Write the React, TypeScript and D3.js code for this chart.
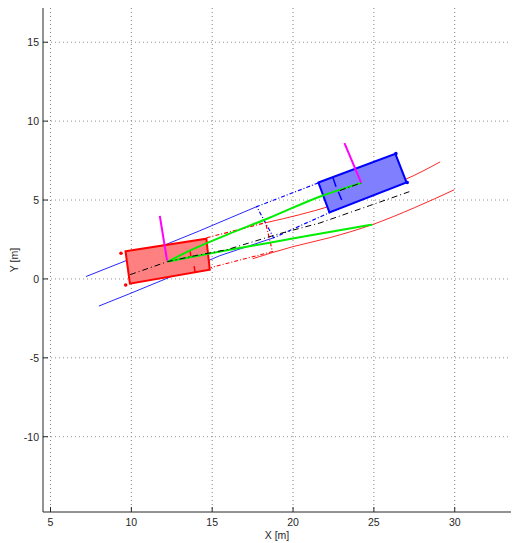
import React from "react";
import * as d3 from "d3";

const W = 512, H = 543;
const xDomain: [number, number] = [4.536, 33.48];
const yDomain: [number, number] = [-14.77, 17.17];
const xTicks = [5, 10, 15, 20, 25, 30];
const yTicks = [-10, -5, 0, 5, 10, 15];

type P = [number, number];
const redCar: P[] = [[9.64, 1.75], [14.64, 2.55], [14.85, 0.59], [9.91, -0.3]];
const blueCar: P[] = [[21.57, 6.11], [26.33, 7.93], [27.02, 6.11], [22.25, 4.22]];
const redDots: P[] = [[9.36, 1.63], [9.65, -0.38]];
const blueDots: P[] = [[26.36, 7.94], [27.06, 6.11]];
const redAxle: P[][] = [[[13.63, 1.77], [13.69, 1.39]], [[13.88, 0.81], [13.94, 0.44]]];
const blueAxle: P[][] = [[[22.47, 6.41], [22.66, 5.84]], [[22.8, 5.52], [23.01, 5.0]]];
const redHeading: P[] = [[11.76, 4.0], [12.21, 1.16]];
const blueHeading: P[] = [[23.18, 8.61], [24.21, 6.11]];
const blueUpper: P[] = [[7.19, 0.15], [9.9, 1.25], [14.2, 3.04], [17.75, 4.58]];
const blueLower: P[] = [[7.99, -1.72], [9.91, -0.93], [12.75, 0.27], [15.46, 1.47], [18.8, 2.61]];
const blueGhost: P[] = [[21.57, 6.09], [17.75, 4.58], [18.8, 2.61], [22.25, 4.2]];
const redGhost: P[] = [[14.66, 2.61], [18.3, 3.56], [18.73, 1.73], [14.91, 0.72]];
const redUpper: P[] = [[18.3, 3.56], [20.4, 4.07], [22.25, 4.6], [24.72, 5.53], [26.88, 6.28], [29.1, 7.42]];
const redLower: P[] = [[17.5, 1.28], [19.97, 2.04], [22.25, 2.61], [24.9, 3.44], [27.5, 4.51], [29.97, 5.65]];
const greenUpper: P[] = [[12.25, 1.1], [13.61, 1.79], [16.08, 2.87], [18.55, 3.88], [21.64, 5.21], [24.23, 6.09]];
const greenLower: P[] = [[12.25, 1.1], [13.8, 1.41], [16.08, 1.85], [18.55, 2.3], [21.64, 2.87], [24.9, 3.44]];
const centerPath: P[] = [[9.92, 0.27], [12.25, 1.1], [13.92, 1.47], [15.9, 1.85], [19.17, 2.87], [21.64, 3.54], [24.72, 4.64], [27.19, 5.53]];
const blueCenter: P[] = [[22.9, 5.6], [24.23, 6.09]];

export default function App() {
  const x = d3.scaleLinear().domain(xDomain).range([43, 511]);
  const y = d3.scaleLinear().domain(yDomain).range([512, 8]);
  const line = d3.line<P>().x(d => x(d[0])).y(d => y(d[1]));
  const lineC = d3.line<P>().x(d => x(d[0])).y(d => y(d[1])).curve(d3.curveMonotoneX);
  const poly = (pts: P[]) => line(pts)! + "Z";
  const font = "'Liberation Sans', Arial, sans-serif";
  return (
    <svg width={W} height={H} style={{ position: "absolute", left: 0, top: 0, background: "#fff" }}>
      <rect width={W} height={H} fill="#fff" />
      {xTicks.map(t => (
        <line key={"gx" + t} x1={x(t)} x2={x(t)} y1={8} y2={512} stroke="#808080" strokeDasharray="1,3" />
      ))}
      {yTicks.map(t => (
        <line key={"gy" + t} x1={43} x2={511} y1={y(t)} y2={y(t)} stroke="#909090" strokeDasharray="1,3" />
      ))}
      {/* trajectories */}
      <path d={line(blueUpper)!} fill="none" stroke="#0000ff" strokeWidth={1} strokeOpacity={0.85} />
      <path d={line(blueLower)!} fill="none" stroke="#0000ff" strokeWidth={1} strokeOpacity={0.85} />
      <path d={line(blueGhost)!} fill="none" stroke="#0000ff" strokeWidth={1.2} strokeDasharray="4,2,1,2" />
      <path d={lineC(redUpper)!} fill="none" stroke="#ff0000" strokeWidth={1} strokeOpacity={0.85} />
      <path d={lineC(redLower)!} fill="none" stroke="#ff0000" strokeWidth={1} strokeOpacity={0.85} />
      <path d={line(redGhost)!} fill="none" stroke="#ff0000" strokeWidth={1.2} strokeDasharray="4,2,1,2" />
      {/* cars */}
      <path d={poly(redCar)} fill="#ff8080" stroke="#ff0000" strokeWidth={2} />
      <path d={poly(blueCar)} fill="#8080ff" stroke="#0000ff" strokeWidth={2} />
      {redAxle.map((s, i) => <path key={"ra" + i} d={line(s)!} stroke="#ff0000" strokeWidth={1.5} />)}
      {blueAxle.map((s, i) => <path key={"ba" + i} d={line(s)!} stroke="#0000ff" strokeWidth={1.5} />)}
      {redDots.map((d, i) => <circle key={"rd" + i} cx={x(d[0])} cy={y(d[1])} r={1.8} fill="#ff0000" />)}
      {blueDots.map((d, i) => <circle key={"bd" + i} cx={x(d[0])} cy={y(d[1])} r={1.8} fill="#0000ff" />)}
      {/* paths */}
      <path d={lineC(greenUpper)!} fill="none" stroke="#00ee00" strokeWidth={2} />
      <path d={lineC(greenLower)!} fill="none" stroke="#00ee00" strokeWidth={2} />
      <path d={line(centerPath)!} fill="none" stroke="#000" strokeWidth={1} strokeDasharray="6,3,1,3" />
      <path d={line(blueCenter)!} fill="none" stroke="#000" strokeWidth={1} strokeDasharray="6,3,1,3" />
      <path d={line(redHeading)!} stroke="#ff00ff" strokeWidth={2} />
      <path d={line(blueHeading)!} stroke="#ff00ff" strokeWidth={2} />
      {/* axes */}
      <line x1={43} x2={43} y1={8} y2={512} stroke="#262626" />
      <line x1={43} x2={511} y1={512} y2={512} stroke="#262626" />
      {xTicks.map(t => (
        <g key={"tx" + t}>
          <line x1={x(t)} x2={x(t)} y1={512} y2={507} stroke="#262626" />
          <text x={x(t)} y={526} textAnchor="middle" fontFamily={font} fontSize={10.5} fill="#262626">{t}</text>
        </g>
      ))}
      {yTicks.map(t => (
        <g key={"ty" + t}>
          <line x1={43} x2={48} y1={y(t)} y2={y(t)} stroke="#262626" />
          <text x={39} y={y(t) + 3.8} textAnchor="end" fontFamily={font} fontSize={10.5} fill="#262626">{t}</text>
        </g>
      ))}
      <text x={277} y={539} textAnchor="middle" fontFamily={font} fontSize={10.5} fill="#262626">X [m]</text>
      <text transform="translate(18,260) rotate(-90)" textAnchor="middle" fontFamily={font} fontSize={10.5} fill="#262626">Y [m]</text>
    </svg>
  );
}
